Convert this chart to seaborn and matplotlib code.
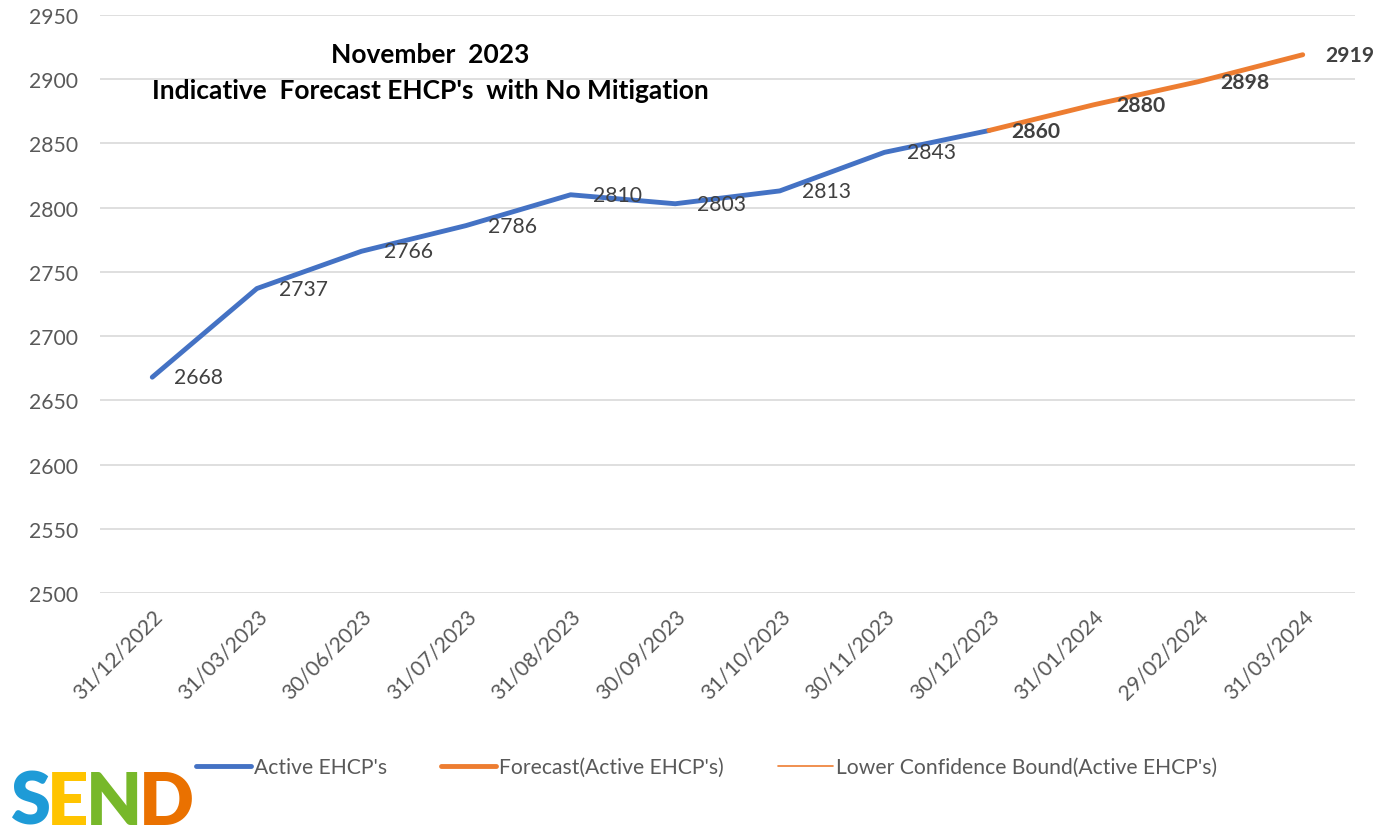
import numpy as np
import pandas as pd
import matplotlib
matplotlib.use("Agg")
import matplotlib.pyplot as plt
import seaborn as sns

# ── data ──────────────────────────────────────────────────────────────────────
dates = ["31/12/2022", "31/03/2023", "30/06/2023", "31/07/2023", "31/08/2023",
         "30/09/2023", "31/10/2023", "30/11/2023", "30/12/2023", "31/01/2024",
         "29/02/2024", "31/03/2024"]
active = [2668, 2737, 2766, 2786, 2810, 2803, 2813, 2843, 2860]
forecast = [2860, 2880, 2898, 2919]
lower_bound = [2860, 2880, 2898, 2919]
forecast_start = 8

BLUE = "#4472C4"
ORANGE = "#ED7D31"
GREY = "#595959"
LABEL = "#404040"
FS = 15.2

sns.set_theme(style="white")
plt.rcParams["font.family"] = ["Lato", "DejaVu Sans"]

act_df = pd.DataFrame({"pos": np.arange(len(active)), "val": active})
fc_df = pd.DataFrame({"pos": np.arange(forecast_start, forecast_start + len(forecast)),
                      "val": forecast})
lb_df = pd.DataFrame({"pos": fc_df["pos"], "val": lower_bound})

fig = plt.figure(figsize=(13.79, 8.37), dpi=100)
ax = fig.add_axes([0.0725, 0.2903, 0.9101, 0.6907])

sns.lineplot(data=act_df, x="pos", y="val", ax=ax, color=BLUE, linewidth=3.5,
             label="Active EHCP's", solid_capstyle="round")
sns.lineplot(data=fc_df, x="pos", y="val", ax=ax, color=ORANGE, linewidth=3.5,
             label="Forecast(Active EHCP's)", solid_capstyle="round")
sns.lineplot(data=lb_df, x="pos", y="val", ax=ax, color=ORANGE, linewidth=1.2,
             label="Lower Confidence Bound(Active EHCP's)")

# data labels
for x, v in zip(act_df["pos"][:-1], act_df["val"][:-1]):
    ax.annotate(f"{v}", (x, v), xytext=(16, 0), textcoords="offset points",
                va="center", ha="left", fontsize=FS, color=LABEL)
for x, v in zip(fc_df["pos"], fc_df["val"]):
    ax.annotate(f"{v}", (x, v), xytext=(16, 0), textcoords="offset points",
                va="center", ha="left", fontsize=FS, color=LABEL,
                fontweight="bold")

ax.set_xlim(-0.5, len(dates) - 0.5)
ax.set_ylim(2500, 2950)
ax.set_yticks(np.arange(2500, 2951, 50))
ax.set_xticks(np.arange(len(dates)))
ax.set_xticklabels(dates, rotation=45, ha="right", rotation_mode="anchor")
ax.tick_params(axis="both", length=0, labelsize=FS, labelcolor=GREY)
ax.tick_params(axis="y", pad=16)
ax.tick_params(axis="x", pad=9)
ax.set_xlabel("")
ax.set_ylabel("")
ax.yaxis.grid(True, color="#D9D9D9", linewidth=1.2)
ax.set_axisbelow(True)
for s in ax.spines.values():
    s.set_visible(False)

ax.text(0.263, 0.932, "November  2023", transform=ax.transAxes, ha="center",
        va="center", fontsize=19, fontweight="bold", color="black")
ax.text(0.263, 0.87, "Indicative  Forecast EHCP's  with No Mitigation",
        transform=ax.transAxes, ha="center", va="center", fontsize=19,
        fontweight="bold", color="black")

handles, labels = ax.get_legend_handles_labels()
ax.get_legend().remove()
fig.legend(handles, labels, loc="center", bbox_to_anchor=(0.5125, 0.0824),
           ncol=3, frameon=False, fontsize=FS, handlelength=2.6,
           handletextpad=0.15, columnspacing=2.55, labelcolor=GREY)

# SEND logo
x0 = 0.007
for ch, col in zip("SEND", ["#1E9BD7", "#FFC400", "#77B82A", "#EA7100"]):
    t = fig.text(x0, 0.0, ch, fontsize=52, fontweight="heavy", color=col,
                 ha="left", va="bottom")
    fig.canvas.draw()
    bb = t.get_window_extent()
    x0 += bb.width / fig.bbox.width - 0.002

fig.savefig("out.png", dpi=100)
